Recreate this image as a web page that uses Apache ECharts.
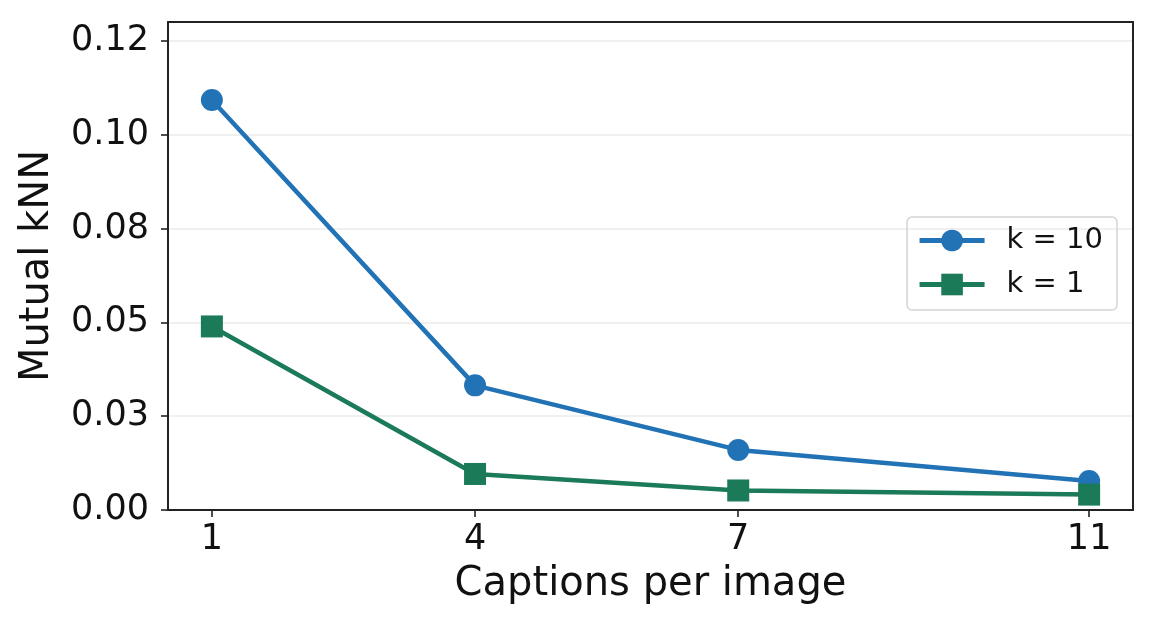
<!DOCTYPE html>
<html><head><meta charset="utf-8">
<script src="https://cdn.jsdelivr.net/npm/echarts@6/dist/echarts.min.js"></script>
<style>html,body{margin:0;padding:0;background:#fff}#c{width:1155px;height:629px}</style>
</head><body><div id="c"></div>
<script>
const captions = [1, 4, 7, 11];
const k10 = [0.1092, 0.0332, 0.0160, 0.0077];
const k1 = [0.0489, 0.0096, 0.0052, 0.0041];
const yTickLabels = ["0.00", "0.03", "0.05", "0.08", "0.10", "0.12"];
const xTickLabels = ["1", "4", "7", "11"];

const FONT = 'DejaVu Sans';
const frameAxis = { show: true, axisLine: { show: true, onZero: false, lineStyle: { color: '#222', width: 2 } },
  axisTick: { show: false }, axisLabel: { show: false }, splitLine: { show: false } };
const chart = echarts.init(document.getElementById('c'));
chart.setOption({
  animation: false,
  backgroundColor: '#fff',
  grid: { left: 168, right: 22, top: 22, bottom: 119, show: false, containLabel: false },
  legend: {
    right: 38, top: 217, orient: 'vertical',
    itemWidth: 65, itemHeight: 27, itemGap: 15,
    padding: [9, 14, 11, 10],
    borderColor: '#d4d4d4', borderWidth: 1.5, borderRadius: 5,
    lineStyle: { width: 5 },
    textStyle: { fontFamily: FONT, fontSize: 29, color: '#111', padding: [0, 0, 0, 17] },
    data: ['k = 10', 'k = 1']
  },
  xAxis: [{
    type: 'value', min: 0.5, max: 11.5,
    name: 'Captions per image', nameLocation: 'middle', nameGap: 55,
    nameTextStyle: { fontFamily: FONT, fontSize: 40, color: '#111' },
    axisLine: { show: true, onZero: false, lineStyle: { color: '#222', width: 2 } },
    axisTick: { show: true, length: 7, lineStyle: { color: '#222', width: 1.6 }, customValues: captions },
    axisLabel: { fontFamily: FONT, fontSize: 35, color: '#111', margin: 12, customValues: captions,
      formatter: v => xTickLabels[captions.indexOf(v)] },
    splitLine: { show: false }
  }, Object.assign({ type: 'value', position: 'top', min: 0.5, max: 11.5 }, frameAxis)],
  yAxis: [{
    type: 'value', min: 0, max: 0.13, interval: 0.025,
    name: 'Mutual kNN', nameLocation: 'middle', nameGap: 110,
    nameTextStyle: { fontFamily: FONT, fontSize: 40, color: '#111' },
    axisLine: { show: true, onZero: false, lineStyle: { color: '#222', width: 2 } },
    axisTick: { show: true, length: 7, lineStyle: { color: '#222', width: 1.6 } },
    axisLabel: { fontFamily: FONT, fontSize: 35, color: '#111', margin: 19, showMaxLabel: false,
      formatter: v => { const i = Math.round(v / 0.025); return yTickLabels[i] !== undefined ? yTickLabels[i] : ''; } },
    splitLine: { show: true, lineStyle: { color: '#ebebeb', width: 1.5 } }
  }, Object.assign({ type: 'value', position: 'right', min: 0, max: 0.13 }, frameAxis)],
  series: [
    { name: 'k = 10', type: 'line', data: captions.map((x, i) => [x, k10[i]]),
      symbol: 'circle', symbolSize: 22, itemStyle: { color: '#2272b6' },
      lineStyle: { width: 4.5, color: '#2272b6' }, z: 3 },
    { name: 'k = 1', type: 'line', data: captions.map((x, i) => [x, k1[i]]),
      symbol: 'rect', symbolSize: 22, itemStyle: { color: '#1b7a58' },
      lineStyle: { width: 4.5, color: '#1b7a58' }, z: 4 }
  ]
});
</script></body></html>
